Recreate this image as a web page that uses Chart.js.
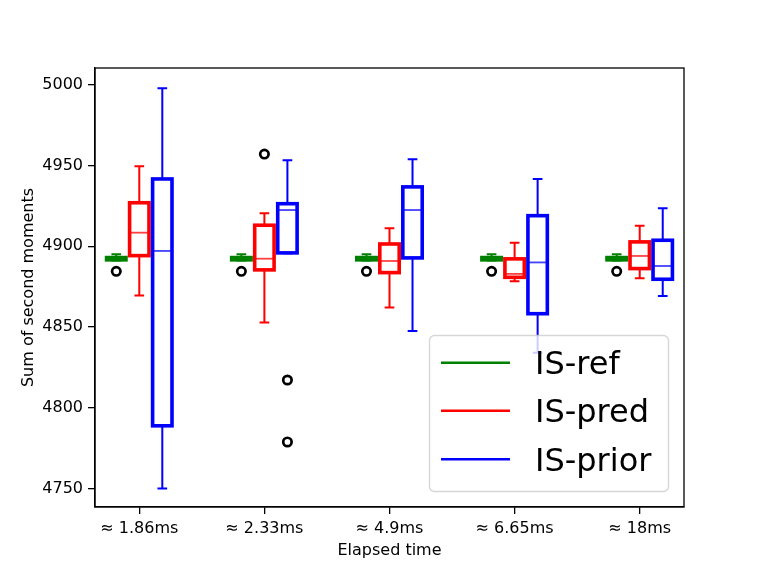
<!DOCTYPE html>
<html><head><meta charset="utf-8">
<script src="https://cdn.jsdelivr.net/npm/chart.js@4.4.1/dist/chart.umd.min.js"></script>
<style>html,body{margin:0;padding:0;background:#fff}#wrap{width:761px;height:571px;position:relative}</style>
</head><body><div id="wrap"><canvas id="c"></canvas></div>
<script>
const categories = ['≈ 1.86ms', '≈ 2.33ms', '≈ 4.9ms', '≈ 6.65ms', '≈ 18ms'];
const seriesNames = ['IS-ref', 'IS-pred', 'IS-prior'];
const yTicks = [4750, 4800, 4850, 4900, 4950, 5000];

// IS-ref box statistics per category
const refLow  = [4891.2, 4891.2, 4891.2, 4891.2, 4891.2];
const refQ1   = [4891.6, 4891.6, 4891.6, 4891.6, 4891.6];
const refMed  = [4892.3, 4892.3, 4892.3, 4892.3, 4892.3];
const refQ3   = [4893.0, 4893.0, 4893.0, 4893.0, 4893.0];
const refHigh = [4895.1, 4895.1, 4895.1, 4895.1, 4895.1];
const refOut  = [[4884.5], [4884.5], [4884.5], [4884.5], [4884.5]];

// IS-pred
const predLow  = [4869.5, 4852.8, 4862.1, 4878.4, 4880.2];
const predQ1   = [4894.2, 4885.4, 4883.7, 4880.8, 4886.2];
const predMed  = [4908.4, 4892.3, 4890.9, 4882.9, 4894.0];
const predQ3   = [4926.9, 4913.0, 4901.4, 4892.2, 4902.7];
const predHigh = [4949.4, 4920.4, 4911.1, 4902.2, 4912.7];
const predOut  = [[], [4957.0], [], [], []];

// IS-prior
const priorLow  = [4750.3, 4895.6, 4847.6, 4834.1, 4869.3];
const priorQ1   = [4789.0, 4895.9, 4892.8, 4858.3, 4879.6];
const priorMed  = [4897.1, 4922.4, 4922.4, 4890.0, 4887.8];
const priorQ3   = [4941.6, 4926.3, 4936.7, 4918.9, 4903.7];
const priorHigh = [4997.7, 4953.2, 4953.8, 4941.6, 4923.5];
const priorOut  = [[], [4817.3, 4779.0], [], [], []];

const colors = ['#008000', '#ff0000', '#0000ff'];
const offsets = [-0.184, 0, 0.184];
const boxWidth = 0.155;

const stats = [
  {low: refLow, q1: refQ1, med: refMed, q3: refQ3, high: refHigh, out: refOut},
  {low: predLow, q1: predQ1, med: predMed, q3: predQ3, high: predHigh, out: predOut},
  {low: priorLow, q1: priorQ1, med: priorMed, q3: priorQ3, high: priorHigh, out: priorOut}
];

const outlierDatasets = stats.map((s, si) => {
  const pts = [];
  s.out.forEach((arr, ci) => arr.forEach(v => pts.push({x: ci + 1 + offsets[si], y: v})));
  return {
    label: seriesNames[si] + ' outliers',
    data: pts,
    pointRadius: 4.2,
    pointHoverRadius: 4.2,
    borderColor: '#000',
    backgroundColor: 'rgba(0,0,0,0)',
    borderWidth: 2.7,
    showLine: false
  };
});

const boxPlugin = {
  id: 'boxes',
  beforeDatasetsDraw(chart) {
    const ctx = chart.ctx, xs = chart.scales.x, ys = chart.scales.y;
    ctx.save();
    stats.forEach((s, si) => {
      ctx.strokeStyle = colors[si];
      for (let ci = 0; ci < categories.length; ci++) {
        const xc = ci + 1 + offsets[si];
        const xl = xs.getPixelForValue(xc - boxWidth / 2);
        const xr = xs.getPixelForValue(xc + boxWidth / 2);
        const xm = xs.getPixelForValue(xc);
        const cl = xs.getPixelForValue(xc - boxWidth / 4);
        const cr = xs.getPixelForValue(xc + boxWidth / 4);
        const yLow = ys.getPixelForValue(s.low[ci]);
        const yQ1 = ys.getPixelForValue(s.q1[ci]);
        const yMed = ys.getPixelForValue(s.med[ci]);
        const yQ3 = ys.getPixelForValue(s.q3[ci]);
        const yHigh = ys.getPixelForValue(s.high[ci]);
        // whiskers + caps
        ctx.lineWidth = 2;
        ctx.beginPath();
        ctx.moveTo(xm, yQ1); ctx.lineTo(xm, yLow);
        ctx.moveTo(xm, yQ3); ctx.lineTo(xm, yHigh);
        ctx.moveTo(cl, yLow); ctx.lineTo(cr, yLow);
        ctx.moveTo(cl, yHigh); ctx.lineTo(cr, yHigh);
        ctx.stroke();
        // box
        ctx.lineWidth = 3.6;
        ctx.strokeRect(xl, yQ3, xr - xl, yQ1 - yQ3);
        // median
        ctx.lineWidth = 1.8;
        ctx.globalAlpha = 0.75;
        ctx.beginPath();
        ctx.moveTo(xl, yMed); ctx.lineTo(xr, yMed);
        ctx.stroke();
        ctx.globalAlpha = 1;
      }
    });
    ctx.restore();
  },
  afterDatasetsDraw(chart) {
    const ctx = chart.ctx, a = chart.chartArea;
    ctx.save();
    ctx.strokeStyle = '#000';
    ctx.lineWidth = 1.3;
    ctx.strokeRect(a.left, a.top, a.right - a.left, a.bottom - a.top);
    ctx.restore();
  },
  afterDraw(chart) {
    const ctx = chart.ctx;
    const lx = 429.5, ly = 335.5, lw = 239, lh = 156, r = 5;
    ctx.save();
    ctx.beginPath();
    ctx.moveTo(lx + r, ly);
    ctx.lineTo(lx + lw - r, ly);
    ctx.arcTo(lx + lw, ly, lx + lw, ly + r, r);
    ctx.lineTo(lx + lw, ly + lh - r);
    ctx.arcTo(lx + lw, ly + lh, lx + lw - r, ly + lh, r);
    ctx.lineTo(lx + r, ly + lh);
    ctx.arcTo(lx, ly + lh, lx, ly + lh - r, r);
    ctx.lineTo(lx, ly + r);
    ctx.arcTo(lx, ly, lx + r, ly, r);
    ctx.closePath();
    ctx.fillStyle = 'rgba(255,255,255,0.8)';
    ctx.fill();
    ctx.strokeStyle = 'rgba(204,204,204,0.8)';
    ctx.lineWidth = 1.3;
    ctx.stroke();
    const rows = [362.7, 410.7, 459.3];
    ctx.font = '32px "DejaVu Sans"';
    ctx.textBaseline = 'alphabetic';
    ctx.textAlign = 'left';
    seriesNames.forEach((name, i) => {
      ctx.strokeStyle = colors[i];
      ctx.lineWidth = 2.5;
      ctx.beginPath();
      ctx.moveTo(441, rows[i]); ctx.lineTo(510, rows[i]);
      ctx.stroke();
      ctx.fillStyle = '#000';
      ctx.fillText(name, 535, rows[i] + 11.7);
    });
    ctx.restore();
  }
};

const font16 = {family: 'DejaVu Sans', size: 16};

new Chart(document.getElementById('c'), {
  type: 'scatter',
  data: {datasets: outlierDatasets},
  options: {
    responsive: true,
    maintainAspectRatio: false,
    animation: false,
    events: [],
    layout: {padding: {left: 0, right: 77, top: 68, bottom: 0}},
    plugins: {legend: {display: false}, tooltip: {enabled: false}},
    scales: {
      x: {
        type: 'linear',
        min: 0.646, max: 5.354,
        afterBuildTicks: s => { s.ticks = categories.map((c, i) => ({value: i + 1})); },
        afterFit: s => { s.height = 64; },
        ticks: {
          callback: v => categories[Math.round(v) - 1],
          font: font16, color: '#000', padding: 5, maxRotation: 0, autoSkip: false
        },
        grid: {drawOnChartArea: false, drawTicks: true, tickLength: 7, color: '#000', lineWidth: 1.3},
        border: {display: true, color: '#000', width: 1.3},
        title: {display: true, text: 'Elapsed time', font: font16, color: '#000', padding: {top: 0, bottom: 10.4}}
      },
      y: {
        type: 'linear',
        min: 4738.8, max: 5010.2,
        afterBuildTicks: s => { s.ticks = yTicks.map(v => ({value: v})); },
        afterFit: s => { s.width = 95; },
        ticks: {font: font16, color: '#000', padding: 5, callback: v => String(v)},
        grid: {drawOnChartArea: false, drawTicks: true, tickLength: 7, color: '#000', lineWidth: 1.3},
        border: {display: true, color: '#000', width: 1.3},
        title: {display: true, text: 'Sum of second moments', font: font16, color: '#000', padding: {top: 19, bottom: 0}}
      }
    }
  },
  plugins: [boxPlugin]
});
</script>
</body></html>
